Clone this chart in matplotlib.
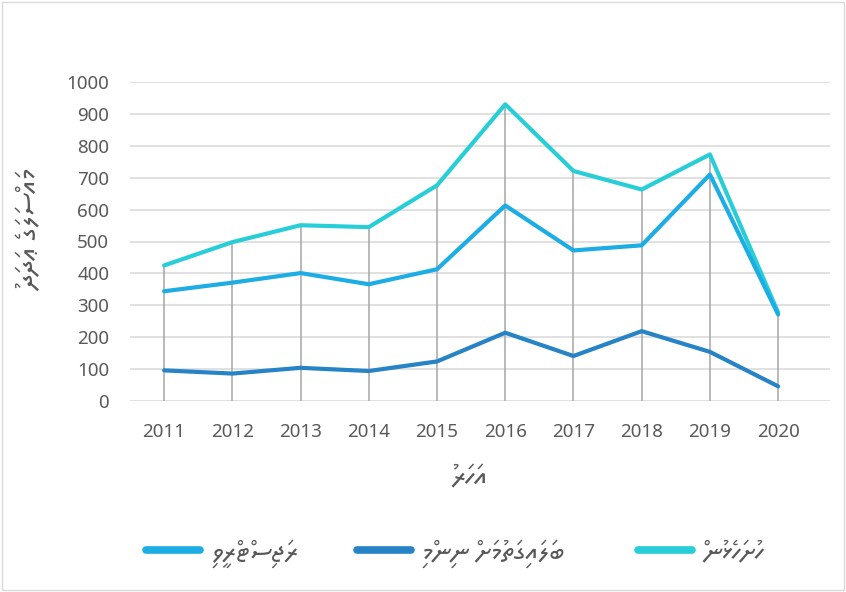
import unicodedata
import matplotlib
matplotlib.use("Agg")
import matplotlib.pyplot as plt
from matplotlib.patches import Rectangle

years = [2011, 2012, 2013, 2014, 2015, 2016, 2017, 2018, 2019, 2020]
registered = [344, 371, 401, 366, 413, 613, 472, 488, 710, 271]
accepted = [96, 86, 104, 94, 124, 214, 141, 219, 154, 46]
submitted = [425, 498, 551, 545, 676, 930, 721, 663, 773, 277]

label_registered = "ރަޖިސްޓްރީވި"
label_accepted = "ބަލައިގަތުމަށް ނިންމި"
label_submitted = "ހުށަހެޅުން"
xlabel = "އަހަރު"
ylabel = "މައްސަލަގެ ޢަދަދު"
yticks = [0, 100, 200, 300, 400, 500, 600, 700, 800, 900, 1000]


def rtl(s):
    """Visual order for a renderer without bidi shaping: reverse clusters,
    and put combining marks before their base (zero-advance marks overlay the next glyph)."""
    cl = []
    for ch in s:
        if cl and unicodedata.category(ch) == 'Mn':
            cl[-1] += ch
        else:
            cl.append(ch)
    return "".join(c[1:] + c[0] for c in reversed(cl))


TH = ["Noto Sans Thaana", "DejaVu Sans"]
GRAY = "#595959"
c_reg = "#1CADE4"
c_acc = "#2683C6"
c_sub = "#27CED7"

plt.rcParams['font.family'] = ['Noto Sans', 'DejaVu Sans']

fig = plt.figure(figsize=(8.46, 5.92), dpi=100)
ax = fig.add_axes([130 / 846, 1 - 401 / 592, 700 / 846, 319 / 592])

# drop lines
for x, a, b, c in zip(years, registered, accepted, submitted):
    ax.plot([x, x], [0, max(a, b, c)], color="#a6a6a6", lw=1.1, zorder=1)

kw = dict(lw=3.0, solid_capstyle='round', solid_joinstyle='round')
h_reg, = ax.plot(years, registered, color=c_reg, zorder=3, label=rtl(label_registered), **kw)
h_acc, = ax.plot(years, accepted, color=c_acc, zorder=3, label=rtl(label_accepted), **kw)
h_sub, = ax.plot(years, submitted, color=c_sub, zorder=2, label=rtl(label_submitted), **kw)

ax.set_xlim(2010.5, 2020.76)
ax.set_ylim(0, 1000)
ax.set_yticks(yticks)
ax.set_xticks(years)
ax.set_xticklabels([str(y) for y in years])
ax.grid(axis='y', color="#d9d9d9", lw=1.1, zorder=0)
ax.set_axisbelow(True)
for s in ax.spines.values():
    s.set_visible(False)
ax.tick_params(axis='both', length=0, labelsize=13.5, labelcolor=GRAY)
ax.tick_params(axis='y', pad=15)
ax.tick_params(axis='x', pad=16)

fig.text(470 / 846, 1 - 478 / 592, rtl(xlabel), family=TH, fontsize=21, color=GRAY,
         ha='center', va='center')
fig.text(31 / 846, 1 - 230 / 592, rtl(ylabel), family=TH, fontsize=21, color=GRAY,
         ha='center', va='center', rotation=90)

# legend entries, placed at the reference's positions
for h, x0 in [(h_reg, 146), (h_acc, 357), (h_sub, 638)]:
    leg = fig.legend([h], [h.get_label()], loc='center left',
                     bbox_to_anchor=(x0 / 846, 1 - 553 / 592), frameon=False,
                     borderpad=0, borderaxespad=0, handlelength=1.95, handletextpad=0.4,
                     prop={'family': TH, 'size': 20})
    for line in leg.get_lines():
        line.set_linewidth(5.5)
        line.set_solid_capstyle('round')
    for t in leg.get_texts():
        t.set_color(GRAY)

fig.patches.append(Rectangle((2 / 846, 2 / 592), 842 / 846, 588 / 592, transform=fig.transFigure,
                             fill=False, edgecolor="#d9d9d9", lw=1.0))

fig.savefig("out.png", dpi=100)
